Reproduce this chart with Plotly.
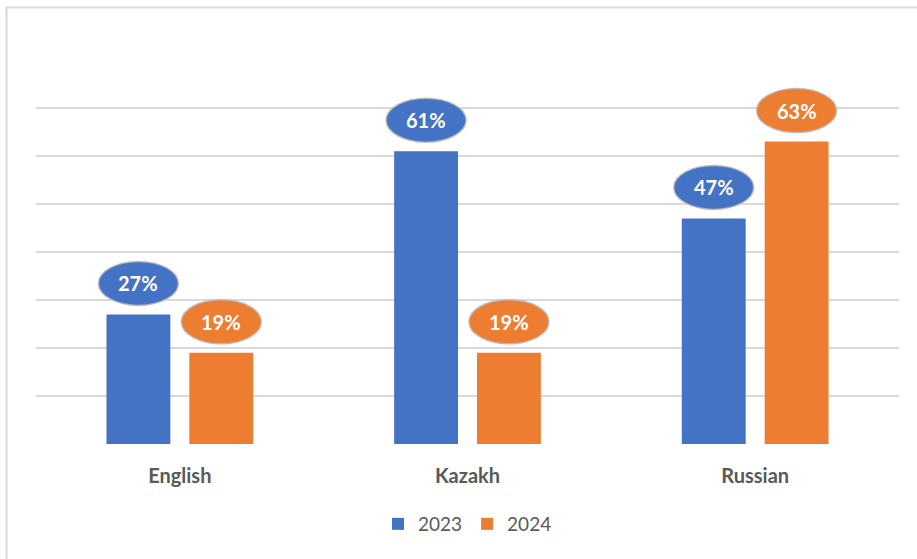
import plotly.graph_objects as go

# Share of respondents by language, two survey years
categories = ["English", "Kazakh", "Russian"]
values_2023 = [27, 61, 47]
values_2024 = [19, 19, 63]
series_names = ["2023", "2024"]
y_ticks = [0, 10, 20, 30, 40, 50, 60, 70]

BLUE = "#4472C4"
ORANGE = "#ED7D31"
GRID = "#D9D9D9"
TEXT = "#595959"
FONT = "Lato, 'Open Sans', sans-serif"

BARGAP = 0.424
BARGROUPGAP = 0.229

x_pos = list(range(len(categories)))

fig = go.Figure()
fig.add_trace(go.Bar(name=series_names[0], x=x_pos, y=values_2023,
                     marker=dict(color=BLUE, line=dict(width=0))))
fig.add_trace(go.Bar(name=series_names[1], x=x_pos, y=values_2024,
                     marker=dict(color=ORANGE, line=dict(width=0))))

# Oval value callouts sitting above each bar
half_slot = (1 - BARGAP) / 4
shapes = []
annotations = []
LIFT = 31
for vals, color, off in ((values_2023, BLUE, -half_slot), (values_2024, ORANGE, half_slot)):
    for xi, v in zip(x_pos, vals):
        xc = xi + off
        shapes.append(dict(
            type="circle", xref="x", yref="y",
            xsizemode="pixel", ysizemode="pixel",
            xanchor=xc, yanchor=v,
            x0=-40, x1=40, y0=LIFT - 22, y1=LIFT + 22,
            fillcolor=color, line=dict(color="rgba(185,185,185,0.9)", width=1.5),
            layer="above",
        ))
        annotations.append(dict(
            x=xc, y=v, xref="x", yref="y", yshift=LIFT,
            text=f"<b>{v}%</b>", showarrow=False,
            font=dict(family=FONT, size=20, color="white"),
            xanchor="center", yanchor="middle",
        ))

# Outer frame of the chart
shapes.append(dict(
    type="rect", xref="paper", yref="paper",
    x0=-0.0341, x1=1.03, y0=-0.40, y1=1.1367,
    line=dict(color=GRID, width=2), fillcolor="rgba(0,0,0,0)", layer="below",
))

fig.update_layout(
    width=917, height=559,
    margin=dict(l=35.5, r=17.5, t=60, b=115),
    paper_bgcolor="white", plot_bgcolor="white",
    barmode="group", bargap=BARGAP, bargroupgap=BARGROUPGAP,
    font=dict(family=FONT, color=TEXT),
    shapes=shapes, annotations=annotations,
    showlegend=True,
    legend=dict(orientation="h", x=0.5, xanchor="center", y=-0.2083, yanchor="middle",
                font=dict(family=FONT, size=19, color=TEXT),
                itemwidth=30, traceorder="normal"),
)
fig.update_xaxes(
    tickmode="array", tickvals=x_pos, ticktext=[f"<b>{c}</b>" for c in categories],
    range=[-0.5, 2.5], showgrid=False, zeroline=False, showline=False,
    ticks="", ticklabelstandoff=18,
    tickfont=dict(family=FONT, size=20, color=TEXT),
)
fig.update_yaxes(
    range=[0, 80], tickmode="array", tickvals=y_ticks, showticklabels=False,
    showgrid=True, gridcolor=GRID, gridwidth=1.5, zeroline=False, showline=False,
)

fig.write_html("out.html")
